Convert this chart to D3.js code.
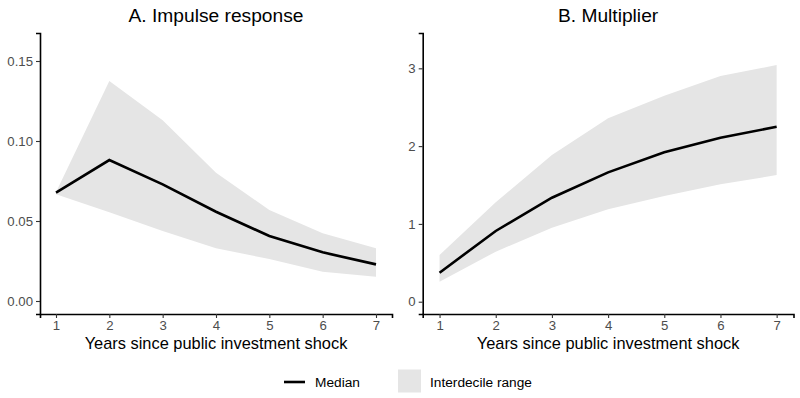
<!DOCTYPE html>
<html><head><meta charset="utf-8">
<script src="https://cdn.jsdelivr.net/npm/d3@7"></script>
<style>body{margin:0;background:#fff}svg{display:block}text{font-family:"Liberation Sans",Arial,sans-serif}</style>
</head><body>
<svg id="c" width="800" height="398"></svg>
<script>
const years = [1,2,3,4,5,6,7];
const irfMedian = [0.0677,0.0881,0.0729,0.0558,0.0406,0.0304,0.0229];
const irfUpper  = [0.0680,0.1375,0.1130,0.0802,0.0569,0.0423,0.0329];
const irfLower  = [0.0667,0.0554,0.0438,0.0329,0.0263,0.0183,0.0152];
const mulMedian = [0.373,0.909,1.337,1.663,1.920,2.108,2.249];
const mulUpper  = [0.600,1.278,1.886,2.357,2.648,2.901,3.042];
const mulLower  = [0.257,0.643,0.951,1.188,1.359,1.509,1.628];
const irfTicks = [0,0.05,0.10,0.15];
const mulTicks = [0,1,2,3];
const xTitle = "Years since public investment shock";

const svg = d3.select("#c");
const panels = [
  {title:"A. Impulse response", left:40, right:392, med:irfMedian, up:irfUpper, lo:irfLower,
   ydom:[-0.008125,0.1675], ticks:irfTicks, fmt:d3.format(".2f")},
  {title:"B. Multiplier", left:422.7, right:793.5, med:mulMedian, up:mulUpper, lo:mulLower,
   ydom:[-0.158,3.454], ticks:mulTicks, fmt:d3.format("d")}
];
const plotTop=33, plotBottom=314;
panels.forEach(p=>{
  const x = d3.scaleLinear().domain([0.7,7.3]).range([p.left,p.right]);
  const y = d3.scaleLinear().domain(p.ydom).range([plotBottom,plotTop]);
  const g = svg.append("g");
  const data = years.map((yr,i)=>({x:yr,m:p.med[i],u:p.up[i],l:p.lo[i]}));
  g.append("path").datum(data)
    .attr("d", d3.area().x(d=>x(d.x)).y0(d=>y(d.l)).y1(d=>y(d.u)))
    .attr("fill","#e5e5e5");
  g.append("path").datum(data)
    .attr("d", d3.line().x(d=>x(d.x)).y(d=>y(d.m)))
    .attr("fill","none").attr("stroke","#000").attr("stroke-width",2.6);
  const xa = g.append("g").attr("transform",`translate(0,${plotBottom})`)
    .call(d3.axisBottom(x).tickValues(years).tickFormat(d3.format("d")).tickSize(4).tickPadding(3));
  const ya = g.append("g").attr("transform",`translate(${p.left},0)`)
    .call(d3.axisLeft(y).tickValues(p.ticks).tickFormat(p.fmt).tickSize(4).tickPadding(3));
  [xa,ya].forEach(a=>{
    a.select(".domain").attr("stroke","#000").attr("stroke-width",1.6);
    a.selectAll(".tick line").attr("stroke","#333").attr("stroke-width",1.1);
    a.selectAll(".tick text").attr("fill","#4d4d4d").style("font-size","13.2px");
  });
  g.append("text").attr("x",(p.left+p.right)/2).attr("y",348.5)
    .attr("text-anchor","middle").style("font-size","16.4px").attr("fill","#000").text(xTitle);
  g.append("text").attr("x",(p.left+p.right)/2).attr("y",21.5)
    .attr("text-anchor","middle").style("font-size","19.2px").attr("fill","#000").text(p.title);
});
// legend
const lg = svg.append("g");
lg.append("line").attr("x1",284).attr("x2",305).attr("y1",382).attr("y2",382)
  .attr("stroke","#000").attr("stroke-width",2.6);
lg.append("text").attr("x",315).attr("y",387).style("font-size","13.7px").text("Median");
lg.append("rect").attr("x",398).attr("y",369.5).attr("width",23).attr("height",23).attr("fill","#e5e5e5");
lg.append("text").attr("x",430).attr("y",387).style("font-size","13.7px").text("Interdecile range");
</script>
</body></html>
